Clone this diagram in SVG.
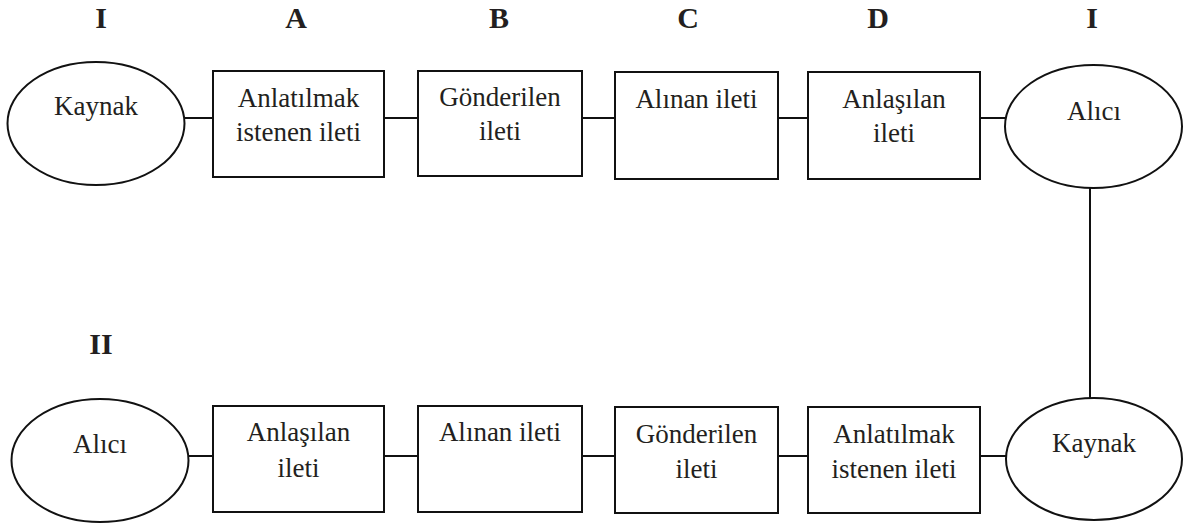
<svg xmlns="http://www.w3.org/2000/svg" width="1193" height="525" viewBox="0 0 1193 525">
<style>
.shape{fill:#fff;stroke:#111;stroke-width:2}
.conn line{stroke:#111;stroke-width:2}
.t{font-family:"Liberation Serif","Times New Roman",serif;font-size:27px;fill:#231f20;text-anchor:middle}
.h{font-family:"Liberation Serif","Times New Roman",serif;font-size:30px;font-weight:bold;fill:#231f20;text-anchor:middle}
</style>
<rect width="1193" height="525" fill="#fff"/>
<g id="headers">
<text class="h" x="101" y="28">I</text>
<text class="h" x="296" y="28">A</text>
<text class="h" x="499" y="28">B</text>
<text class="h" x="688" y="28">C</text>
<text class="h" x="878" y="28">D</text>
<text class="h" x="1092" y="28">I</text>
<text class="h" x="101" y="354">II</text>
</g>
<g class="conn" id="connectors">
<line x1="184" y1="118" x2="213" y2="118"/>
<line x1="384" y1="118" x2="418" y2="118"/>
<line x1="582" y1="118" x2="615" y2="118"/>
<line x1="778" y1="118" x2="808" y2="118"/>
<line x1="980" y1="118" x2="1010" y2="118"/>
<line x1="1090" y1="188" x2="1090" y2="398"/>
<line x1="184" y1="456" x2="213" y2="456"/>
<line x1="384" y1="456" x2="418" y2="456"/>
<line x1="582" y1="456" x2="615" y2="456"/>
<line x1="778" y1="456" x2="808" y2="456"/>
<line x1="980" y1="456" x2="1010" y2="456"/>
</g>
<g id="n1"><ellipse class="shape" cx="96" cy="123.5" rx="88.5" ry="61.5"/><text class="t" x="96" y="115">Kaynak</text></g>
<g id="n2"><rect class="shape" x="213" y="71" width="171" height="106"/><text class="t" x="298.5" y="107">Anlatılmak</text><text class="t" x="298.5" y="141">istenen ileti</text></g>
<g id="n3"><rect class="shape" x="418" y="71" width="164" height="105"/><text class="t" x="500" y="106">Gönderilen</text><text class="t" x="500" y="140">ileti</text></g>
<g id="n4"><rect class="shape" x="615" y="72" width="163" height="107"/><text class="t" x="696.5" y="108">Alınan ileti</text></g>
<g id="n5"><rect class="shape" x="808" y="72" width="172" height="107"/><text class="t" x="894" y="108">Anlaşılan</text><text class="t" x="894" y="142">ileti</text></g>
<g id="n6"><ellipse class="shape" cx="1093.5" cy="126.5" rx="88.5" ry="61.5"/><text class="t" x="1094" y="120">Alıcı</text></g>
<g id="n7"><ellipse class="shape" cx="100" cy="460.5" rx="88.5" ry="61.5"/><text class="t" x="100" y="453">Alıcı</text></g>
<g id="n8"><rect class="shape" x="213" y="406" width="171" height="106"/><text class="t" x="298.5" y="441">Anlaşılan</text><text class="t" x="298.5" y="477">ileti</text></g>
<g id="n9"><rect class="shape" x="418" y="406" width="164" height="106"/><text class="t" x="500" y="441">Alınan ileti</text></g>
<g id="n10"><rect class="shape" x="615" y="407" width="163" height="106"/><text class="t" x="696.5" y="443">Gönderilen</text><text class="t" x="696.5" y="478">ileti</text></g>
<g id="n11"><rect class="shape" x="808" y="407" width="172" height="106"/><text class="t" x="894" y="443">Anlatılmak</text><text class="t" x="894" y="478">istenen ileti</text></g>
<g id="n12"><ellipse class="shape" cx="1094" cy="459" rx="88" ry="61"/><text class="t" x="1094" y="452">Kaynak</text></g>
</svg>
